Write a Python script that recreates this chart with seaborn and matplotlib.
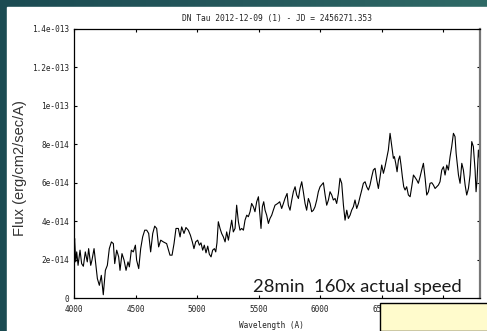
import numpy as np
import pandas as pd
import matplotlib
matplotlib.use("Agg")
import matplotlib.pyplot as plt
from matplotlib.patches import Rectangle
from matplotlib.colors import LinearSegmentedColormap
import seaborn as sns

title = "DN Tau 2012-12-09 (1) - JD = 2456271.353"
xlabel = "Wavelength (A)"
ylabel = "Flux (erg/cm2/sec/A)"
overlay_text = "28min  160x actual speed"

x_ticks = [4000, 4500, 5000, 5500, 6000, 6500, 7000]
y_ticks = [0, 2e-14, 4e-14, 6e-14, 8e-14, 1e-13, 1.2e-13, 1.4e-13]
y_tick_labels = ["0", "2e-014", "4e-014", "6e-014", "8e-014", "1e-013", "1.2e-013", "1.4e-013"]

wavelength = [
    4000, 4005, 4014, 4022, 4033, 4049, 4062, 4076, 4092, 4108, 4119, 4136, 4146, 4163, 4190, 4206, 4222, 4238,
    4255, 4271, 4287, 4304, 4320, 4331, 4347, 4363, 4374, 4390, 4407, 4423, 4439, 4450, 4466, 4482,
    4499, 4509, 4526, 4542, 4558, 4575, 4591, 4607, 4623, 4640, 4656, 4672, 4688, 4705, 4726, 4753,
    4780, 4797, 4813, 4829,
    4848, 4862, 4875, 4894, 4910, 4929, 4946, 4962, 4975, 4989, 5005, 5019, 5032, 5046, 5059, 5073,
    5087, 5100, 5114, 5127, 5141, 5152, 5162, 5173, 5187, 5200, 5214, 5228, 5241, 5255, 5268, 5282,
    5295, 5309, 5322, 5336, 5349, 5363, 5377, 5390, 5404, 5417, 5431, 5444, 5458, 5471, 5485, 5499,
    5512, 5520, 5531, 5542, 5553, 5566, 5580, 5593, 5607, 5620, 5634,
    5656, 5672, 5688, 5702, 5715, 5732, 5742, 5756, 5770, 5783, 5797, 5810, 5824, 5837, 5851, 5864,
    5878, 5891, 5905, 5919, 5932, 5946, 5959, 5973, 5986, 6000, 6027, 6041, 6054, 6068, 6081, 6095,
    6108, 6122, 6135, 6149, 6162, 6176, 6190, 6203, 6217, 6230, 6244, 6257, 6271, 6284, 6298, 6312,
    6325, 6339, 6352, 6366, 6379, 6393, 6406, 6420, 6433, 6447,
    6461, 6474, 6488, 6501, 6515, 6528, 6542, 6555, 6569, 6583, 6596, 6604, 6615, 6626, 6637, 6648,
    6658, 6669, 6680, 6691, 6704, 6718, 6732, 6745, 6759, 6772, 6786, 6799, 6813, 6826, 6840, 6854,
    6867, 6881, 6894, 6908, 6921, 6935, 6948, 6962, 6975, 6989, 7003, 7016, 7030, 7043, 7057, 7070,
    7084, 7097, 7106, 7116, 7125, 7138, 7152, 7165, 7179, 7192, 7206, 7219, 7233, 7246, 7260, 7268,
    7276, 7287, 7298,
]
flux_e14 = [
    2.6, 3.10, 1.88, 2.40, 1.70, 2.49, 1.79, 1.65, 2.40, 1.88, 2.57, 1.70, 1.97, 2.57, 1.01, 0.66, 1.18, 0.17,
    1.44, 1.70, 2.57, 2.92, 2.83, 1.79, 2.49, 2.14, 1.44, 2.31, 1.97, 1.44, 1.88, 1.62, 2.49, 2.40,
    2.75, 1.97, 1.53, 2.57, 3.18, 3.53, 3.53, 3.36, 2.40, 3.36, 3.74, 3.62, 2.66, 3.01, 2.92, 2.83,
    2.23, 2.23, 2.83, 3.62,
    3.62, 3.18, 3.70, 3.36, 3.67, 3.53, 3.27, 2.92, 2.57, 2.92, 3.01, 2.75, 2.87, 2.49, 2.75, 2.35,
    2.70, 2.28, 2.14, 2.49, 2.57, 2.40, 2.87, 3.97, 3.62, 3.36, 3.18, 2.92, 3.44, 3.01, 3.53, 4.05,
    3.44, 3.62, 4.83, 3.97, 3.53, 3.62, 3.53, 4.05, 4.31, 4.23, 4.49, 4.92, 4.75, 4.49, 5.01, 5.27,
    4.23, 3.62, 4.75, 5.01, 4.57, 4.31, 3.88, 4.14, 4.31, 4.57, 4.83,
    4.92, 5.01, 4.66, 4.92, 5.18, 5.44, 4.83, 4.57, 5.10, 5.53, 5.79, 5.36, 5.18, 5.70, 6.05, 5.53,
    4.92, 4.57, 5.18, 4.92, 4.49, 4.57, 4.75, 5.10, 5.53, 5.79, 6.00, 5.36, 4.83, 5.10, 5.53, 5.36,
    5.10, 5.18, 4.92, 5.44, 6.23, 5.97, 4.83, 4.05, 4.57, 4.14, 4.31, 4.57, 4.75, 5.10, 4.66, 4.92,
    5.27, 5.62, 5.97, 6.05, 5.79, 5.62, 5.88, 6.31, 6.66, 6.75,
    6.14, 5.70, 6.31, 6.92, 6.49, 6.83, 7.27, 7.70, 8.57, 7.88, 7.27, 7.36, 7.01, 6.57, 7.18, 7.39,
    6.92, 6.31, 5.79, 5.62, 5.79, 5.36, 5.27, 5.79, 6.40, 6.28, 6.14, 5.97, 6.31, 6.66, 7.01, 6.23,
    5.36, 5.53, 5.97, 6.00, 5.88, 5.70, 5.79, 5.88, 6.05, 6.66, 6.83, 6.40, 6.92, 6.66, 7.36, 7.88,
    8.57, 8.40, 7.53, 6.92, 6.40, 5.97, 7.01, 6.66, 5.88, 5.36, 5.70, 6.40, 8.14, 7.88, 6.66, 5.53,
    6.14, 7.70, 7.18,
]

df = pd.DataFrame({"wl": wavelength, "flux": np.array(flux_e14) * 1e-14})

W, H = 487, 331
fig = plt.figure(figsize=(W / 100, H / 100), dpi=100)

# teal gradient background
bg = fig.add_axes([0, 0, 1, 1], zorder=-10)
cmap = LinearSegmentedColormap.from_list("teal", ["#1b4b52", "#25585c", "#2f6a66"])
grad = np.linspace(0, 1, 256).reshape(1, -1)
bg.imshow(grad, aspect="auto", cmap=cmap, extent=[0, 1, 0, 1])
bg.add_patch(Rectangle((7 / W, 0), 1 - 7 / W, 1 - 7 / H, color="white", transform=bg.transAxes))
bg.set_xlim(0, 1); bg.set_ylim(0, 1)
bg.axis("off")

ax = fig.add_axes([74 / W, 1 - 298 / H, (480 - 74) / W, (298 - 29) / H])
ax.set_facecolor("white")
sns.lineplot(data=df, x="wl", y="flux", ax=ax, color="black", linewidth=0.8,
             estimator=None, sort=False)

ax.set_xlim(4000, 7300)
ax.set_ylim(0, 1.4e-13)
ax.set_xticks(x_ticks)
ax.set_xticklabels([str(t) for t in x_ticks])
ax.set_yticks(y_ticks)
ax.set_yticklabels(y_tick_labels)
mono = "DejaVu Sans Mono"
ax.tick_params(direction="in", length=2.5, width=0.8, top=True, right=True, pad=3.5, colors="black")
ax.tick_params(axis="x", pad=5)
for lab in ax.get_xticklabels() + ax.get_yticklabels():
    lab.set_fontfamily(mono)
    lab.set_fontsize(5.6)
    lab.set_color("#222222")
for s in ["left", "bottom", "top"]:
    ax.spines[s].set_color("black")
    ax.spines[s].set_linewidth(0.9)
ax.spines["right"].set_color("#777777")
ax.spines["right"].set_linewidth(1.6)
ax.set_xlabel("")
ax.set_ylabel("")

fig.text(277 / W, 1 - 18 / H, title, ha="center", va="center", fontfamily=mono, fontsize=5.7, color="#222222")
fig.text(271 / W, 1 - 325 / H, xlabel, ha="center", va="center", fontfamily=mono, fontsize=5.6, color="#222222")
fig.text(20 / W, 1 - 168 / H, ylabel, ha="center", va="center", rotation=90,
         fontfamily="Liberation Sans", fontsize=10.5, color="#333333")

fig.text(357 / W, 1 - 287 / H, overlay_text, ha="center", va="center",
         fontfamily="Lato", fontsize=13.3, color="#1a1a1a", zorder=20)

fig.patches.append(Rectangle((380 / W, 0), 1 - 380 / W + 0.01, 28 / H, transform=fig.transFigure,
                             facecolor="#fffbcc", edgecolor="black", linewidth=1.0, zorder=30))

fig.savefig("out.png", dpi=100)
